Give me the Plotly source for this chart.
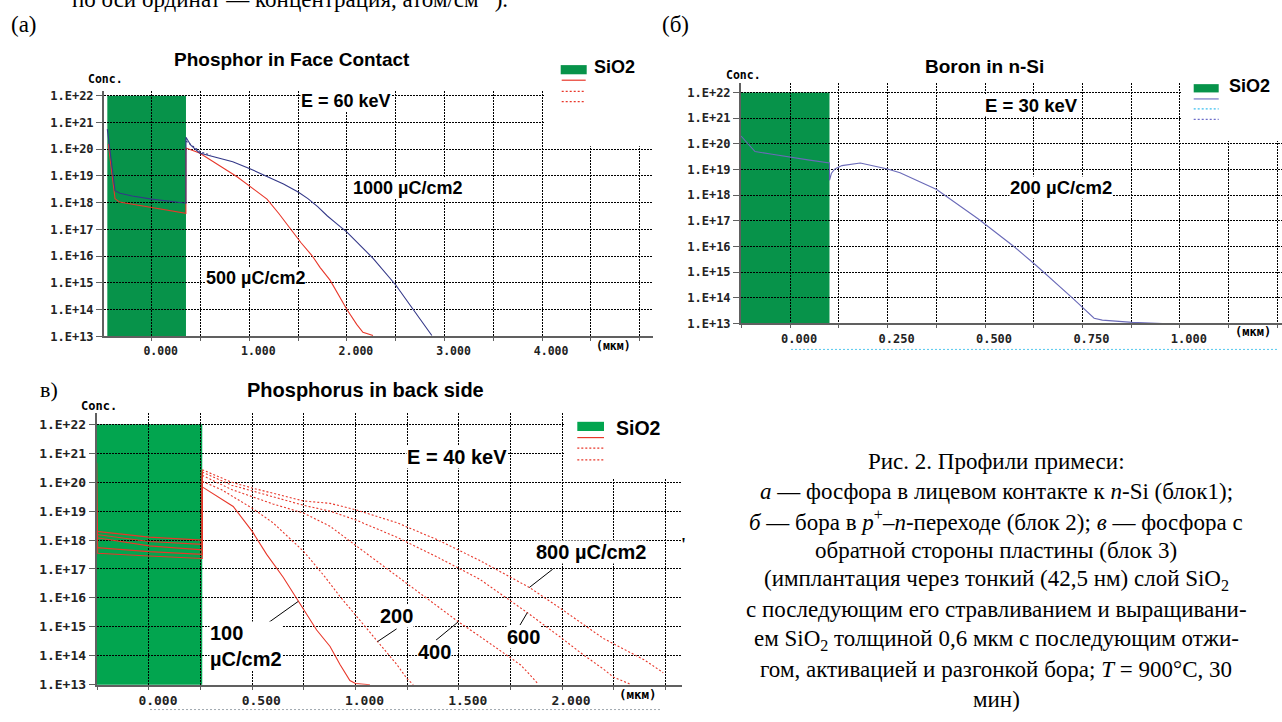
import math
import plotly.graph_objects as go

W, H = 1282, 722

# ------------------------------------------------------------------ data
conc_ticks = [1e13, 1e14, 1e15, 1e16, 1e17, 1e18, 1e19, 1e20, 1e21, 1e22]
conc_labels = ["1.E+13", "1.E+14", "1.E+15", "1.E+16", "1.E+17",
               "1.E+18", "1.E+19", "1.E+20", "1.E+21", "1.E+22"]

# (a) Phosphor in Face Contact
a_xticks = [0, 1, 2, 3, 4]
a_xlabels = ["0.000", "1.000", "2.000", "3.000", "4.000"]
a_sio2 = [-0.455, 0.351]
a_blue_ox_x = [-0.455, -0.42, -0.39, -0.376, -0.325, -0.2, 0.0, 0.2, 0.35]
a_blue_ox_c = [5.6e20, 5.0e19, 6.3e18, 2.8e18, 2.24e18, 1.78e18, 1.35e18, 1.12e18, 9.5e17]
a_blue_si_x = [0.351, 0.40, 0.49, 0.65, 0.83, 1.0, 1.18, 1.35, 1.5, 1.6, 1.7, 1.8,
               1.9, 2.0, 2.27, 2.5, 2.67, 2.87]
a_blue_si_c = [2.8e20, 1.41e20, 7.2e19, 5.0e19, 3.4e19, 1.9e19, 9.3e18, 5.0e18, 2.5e18,
               1.41e18, 7.1e17, 3.16e17, 1.58e17, 7.9e16, 8.1e15, 8.3e14, 1.12e14, 1.07e13]
a_blue_dot_x = [0.351, 0.42, 0.5, 0.6]
a_blue_dot_c = [2.0e20, 1.26e20, 7.9e19, 6.0e19]
a_red_ox_x = [-0.445, -0.42, -0.40, -0.376, -0.33, -0.19, 0.0, 0.2, 0.35]
a_red_ox_c = [1.58e20, 3.16e19, 7.9e18, 1.41e18, 1.05e18, 8.7e17, 6.6e17, 5.0e17, 4.0e17]
a_red_si_x = [0.351, 0.49, 0.874, 1.181, 1.3, 1.417, 1.53, 1.642, 1.724, 1.827, 2.0,
              2.1, 2.164, 2.267]
a_red_si_c = [1.1e20, 7.2e19, 9.3e18, 1.35e18, 4.0e17, 1.05e17, 3.16e16, 1.05e16,
              3.8e15, 1.26e15, 1.0e14, 2.8e13, 1.41e13, 1.07e13]

# (б) Boron in n-Si
b_xticks = [0, 0.25, 0.5, 0.75, 1.0]
b_xlabels = ["0.000", "0.250", "0.500", "0.750", "1.000"]
b_sio2 = [-0.126, 0.101]
b_boron_x = [-0.126, -0.103, -0.09, -0.05, 0.0, 0.05, 0.101, 0.101, 0.106, 0.115, 0.133,
             0.18, 0.25, 0.282, 0.376, 0.483, 0.57, 0.63, 0.724, 0.78, 0.801, 0.878, 0.955]
b_boron_c = [2.0e20, 7.8e19, 5.0e19, 4.0e19, 3.0e19, 2.3e19, 1.8e19, 3.8e18, 7.1e18,
             1.05e19, 1.41e19, 1.78e19, 1.05e19, 7.4e18, 1.66e18, 1.17e17, 1.12e16,
             1.9e15, 1.0e14, 1.6e13, 1.35e13, 1.1e13, 1.0e13]

# (в) Phosphorus in back side
c_xticks = [0, 0.5, 1.0, 1.5, 2.0]
c_xlabels = ["0.000", "0.500", "1.000", "1.500", "2.000"]
c_sio2 = [-0.253, 0.258]
c_doses = [100, 200, 400, 600, 800]
c_ox_x = {100: [-0.253, -0.248, 0.0, 0.258], 200: [-0.253, 0.0, 0.258],
          400: [-0.253, 0.0, 0.258], 600: [-0.253, 0.0, 0.258], 800: [-0.253, 0.0, 0.258]}
c_ox_c = {100: [4.7e20, 3.5e17, 2.8e17, 2.3e17], 200: [5.5e17, 4.0e17, 3.2e17],
          400: [1.2e18, 6.3e17, 4.6e17], 600: [1.55e18, 8.9e17, 7.1e17],
          800: [2.0e18, 1.26e18, 1.0e18]}
c_si_x = {
    100: [0.258, 0.408, 0.5, 0.57, 0.65, 0.723, 0.812, 0.877, 0.925, 0.973, 1.0, 1.07],
    200: [0.258, 0.35, 0.5, 0.6, 0.75, 0.85, 0.925, 1.0, 1.107, 1.2, 1.25, 1.28],
    400: [0.258, 0.4, 0.5, 0.6, 0.75, 0.877, 1.0, 1.2, 1.4, 1.498, 1.6, 1.7, 1.8, 1.85, 1.885],
    600: [0.258, 0.4, 0.5, 0.75, 0.877, 1.0, 1.2, 1.4, 1.6, 1.832, 2.0, 2.1, 2.2, 2.25, 2.33],
    800: [0.258, 0.4, 0.5, 0.75, 0.877, 1.0, 1.2, 1.4, 1.6, 1.842, 2.0, 2.2, 2.4, 2.49],
}
c_si_c = {
    100: [6.9e19, 1.45e19, 2.0e18, 3.2e17, 5.2e16, 7.6e15, 7.8e14, 2.1e14, 5.0e13, 1.4e13, 1.1e13, 1.0e13],
    200: [1.07e20, 5.6e19, 1.26e19, 4.0e18, 4.0e17, 5.6e16, 1.12e16, 2.5e15, 3.1e14, 5.0e13, 1.6e13, 1.0e13],
    400: [1.74e20, 5.6e19, 3.16e19, 1.78e19, 8.5e18, 3.0e18, 6.6e17, 5.8e16, 5.1e15, 1.5e15,
          4.8e14, 1.5e14, 4.8e13, 2.0e13, 1.05e13],
    600: [2.24e20, 7.9e19, 5.0e19, 1.58e19, 1.0e19, 5.0e18, 1.26e18, 2.5e17, 4.5e16, 3.1e15,
          4.0e14, 1.12e14, 3.5e13, 1.8e13, 1.05e13],
    800: [2.7e20, 1.0e20, 6.3e19, 2.24e19, 1.86e19, 1.12e19, 4.0e18, 1.0e18, 2.0e17, 2.3e16,
          4.0e15, 4.0e14, 7.1e13, 2.6e13],
}
# points on the curves that the label leader lines touch
c_lead_x = [0.723, 1.107, 1.498, 1.832, 1.842]
c_lead_c = [7.6e15, 3.1e14, 1.5e15, 3.1e15, 2.3e16]

# ------------------------------------------------------------------ styles
GREEN_A = "#07934a"
GREEN_C = "#02a54f"
NAVY = "#343888"
RED = "#e8372a"
BORON = "#6a6ab8"
GRID = "#000000"
GRIDDASH = "2px,1px"
MONO = "DejaVu Sans Mono"
SANS = "Liberation Sans"
SERIF = "Liberation Serif"


def px(xp, yp):
    return xp / W, 1 - yp / H


# pixel geometry of the three panels: left, right, top(axis), y(1e22), bottom(1e13)
geo = {
    "a": dict(l=104, r=653, t=90, y22=95, b=339, xr=(-0.489, 5.136)),
    "b": dict(l=741, r=1282, t=81.7, y22=91.7, b=326, xr=(-0.126, 1.262)),
    "c": dict(l=96.7, r=682, t=416.7, y22=428.3, b=692.3, xr=(-0.253, 2.581)),
}
for g in geo.values():
    dec = (g["b"] - g["y22"]) / 9
    g["ytop"] = 22 + (g["y22"] - g["t"]) / dec
    g["xdom"] = [g["l"] / W, g["r"] / W]
    g["ydom"] = [1 - g["b"] / H, 1 - g["t"] / H]
    g["frac"] = lambda lv, g=g: (lv - 13) / (g["ytop"] - 13)


def xaxis(g, tv, tt, minor_dt, fs, anchor):
    return dict(domain=g["xdom"], range=list(g["xr"]), anchor=anchor,
                tickmode="array", tickvals=tv, ticktext=tt,
                showgrid=True, gridcolor=GRID, griddash=GRIDDASH, gridwidth=1,
                showline=True, linecolor="#606060", linewidth=2,
                ticks="outside", ticklen=3, tickcolor="#606060",
                tickfont=dict(family=MONO, size=fs, color="#222", weight="bold"),
                ticklabelshift=9, zeroline=False, fixedrange=True,
                minor=dict(tickmode="linear", tick0=0, dtick=minor_dt, showgrid=True,
                           gridcolor=GRID, griddash=GRIDDASH, gridwidth=1,
                           ticks="outside", ticklen=3, tickcolor="#606060"))


def yaxis(g, fs, anchor):
    return dict(domain=g["ydom"], type="log", range=[13, g["ytop"]], anchor=anchor,
                tickmode="array", tickvals=conc_ticks, ticktext=conc_labels,
                showgrid=True, gridcolor=GRID, griddash=GRIDDASH, gridwidth=1,
                showline=True, linecolor="#606060", linewidth=2,
                ticks="outside", ticklen=6, tickcolor="#606060",
                tickfont=dict(family=MONO, size=fs, color="#222", weight="bold"),
                zeroline=False, fixedrange=True)


fig = go.Figure()


def line(x, y, xa, ya, color, dash="solid"):
    fig.add_trace(go.Scatter(x=x, y=y, xaxis=xa, yaxis=ya, mode="lines",
                             line=dict(color=color, width=1.1, dash=dash),
                             hoverinfo="skip", showlegend=False))


# (a)
line(a_red_ox_x + a_red_si_x, a_red_ox_c + a_red_si_c, "x", "y", RED)
line(a_blue_ox_x + a_blue_si_x, a_blue_ox_c + a_blue_si_c, "x", "y", NAVY)
line(a_blue_dot_x, a_blue_dot_c, "x", "y", NAVY, "2px,2px")
# (б)
line(b_boron_x, b_boron_c, "x2", "y2", BORON)
# (в)
for d in c_doses:
    line(c_ox_x[d] + [c_si_x[d][0]], c_ox_c[d] + [c_si_c[d][0]], "x3", "y3", RED)
    line(c_si_x[d], c_si_c[d], "x3", "y3", RED, "solid" if d == 100 else "2px,2px")

ga, gb, gc = geo["a"], geo["b"], geo["c"]
fig.update_layout(
    width=W, height=H, margin=dict(l=0, r=0, t=0, b=0),
    paper_bgcolor="white", plot_bgcolor="white", showlegend=False,
    xaxis=xaxis(ga, a_xticks, a_xlabels, 0.5, 11.5, "y"),
    yaxis=yaxis(ga, 12, "x"),
    xaxis2=xaxis(gb, b_xticks, b_xlabels, 0.125, 12, "y2"),
    yaxis2=yaxis(gb, 12, "x2"),
    xaxis3=xaxis(gc, c_xticks, c_xlabels, 0.25, 13, "y3"),
    yaxis3=yaxis(gc, 13, "x3"),
)

shapes = []
# SiO2 regions (below the grid)
for g, xr, yr, rng, col in [(ga, "x", "y domain", a_sio2, GREEN_A),
                            (gb, "x2", "y2 domain", b_sio2, GREEN_A),
                            (gc, "x3", "y3 domain", c_sio2, GREEN_C)]:
    shapes.append(dict(type="rect", xref=xr, yref=yr, x0=rng[0], x1=rng[1],
                       y0=0, y1=g["frac"](22), fillcolor=col, line=dict(width=0),
                       layer="below"))
# grid cut-outs behind the legends
for g, xr, yr, xcut, eps in [(ga, "x", "y domain", 4.0, 0.02),
                             (gb, "x2", "y2 domain", 1.0, 0.005),
                             (gc, "x3", "y3 domain", 2.0, 0.01)]:
    shapes.append(dict(type="rect", xref=xr, yref=yr, x0=xcut + eps, x1=g["xr"][1] + 0.1,
                       y0=g["frac"](20) + 0.012, y1=1.05, fillcolor="white",
                       line=dict(width=0), layer="above"))

# leader lines from the (в) labels to the curves
lead_off = [(-50, 35.6), (19, -12.7), (-22.3, 18.4), (-7.3, 12.4), (23.4, -18.3)]
for lx, lc, (dx, dy) in zip(c_lead_x, c_lead_c, lead_off):
    shapes.append(dict(type="line", xref="x3", yref="y3 domain",
                       xsizemode="pixel", ysizemode="pixel",
                       xanchor=lx, yanchor=gc["frac"](math.log10(lc)),
                       x0=0, x1=dx, y0=0, y1=-dy,
                       line=dict(color="black", width=1), layer="above"))


def pline(x0, x1, y, color, dash="solid", width=1.2):
    (a0, b0), (a1, _) = px(x0, y), px(x1, y)
    shapes.append(dict(type="line", xref="paper", yref="paper", x0=a0, x1=a1, y0=b0, y1=b0,
                       line=dict(color=color, width=width, dash=dash), layer="above"))


def prect(x0, x1, y0, y1, color):
    (a0, b0), (a1, b1) = px(x0, y0), px(x1, y1)
    shapes.append(dict(type="rect", xref="paper", yref="paper", x0=a0, x1=a1, y0=b0, y1=b1,
                       fillcolor=color, line=dict(width=0), layer="above"))


# legends
prect(560.7, 586.7, 64, 73.3, GREEN_A)
pline(561.7, 585.7, 79.3, RED)
pline(561.7, 585.7, 90.7, RED, "2px,2px")
pline(561.7, 585.7, 101, RED, "2px,2px")
prect(1193.7, 1218.7, 83.3, 91.7, GREEN_A)
pline(1193.7, 1218.7, 98.3, "#7474c4")
pline(1193.7, 1218.7, 108.3, "#3cc0f0", "2px,2px")
pline(1193.7, 1218.7, 119, "#6c6cc8", "2px,2px")
prect(577.3, 604, 425.7, 435, GREEN_C)
pline(577.3, 604, 441.7, RED)
pline(577.3, 604, 452.3, RED, "2px,2px")
pline(577.3, 604, 464.3, RED, "2px,2px")
# faint legend remnants below panels
pline(791, 1279, 352.3, "#55c8ee", "2px,2px", 1)
pline(150, 660, 717.5, "#a0a8b0", "2px,2px", 1)

fig.update_layout(shapes=shapes)

ann = []


def text(xp, yp, t, size, family=SANS, bold=True, bg=None, xanchor="center", align="center",
         yanchor="middle"):
    x, y = px(xp, yp)
    ann.append(dict(x=x, y=y, xref="paper", yref="paper", text=t, showarrow=False,
                    xanchor=xanchor, yanchor=yanchor, align=align,
                    font=dict(family=family, size=size, color="black",
                              weight="bold" if bold else "normal"),
                    bgcolor=bg, borderpad=0))


# panel (a)
text(292, 58, "Phosphor in Face Contact", 19)
text(614.5, 66, "SiO2", 18)
text(345.8, 100, "E = 60 keV", 18, bg="white")
text(407.3, 188.3, "1000 µC/cm2", 18, bg="white")
text(255.3, 280, "500 µC/cm2", 18, bg="white")
text(105.7, 77.7, "Conc.", 11.5, MONO)
text(613.3, 349, "(мкм)", 11.5, MONO)
# panel (б)
text(984, 65, "Boron in n-Si", 19)
text(1249, 85, "SiO2", 18)
text(1031, 105, "E = 30 keV", 18.5, bg="white")
text(1061, 188.3, "200 µC/cm2", 18.5, bg="white")
text(743.7, 74.3, "Conc.", 11.5, MONO)
text(1252.5, 335, "(мкм)", 12, MONO)
# panel (в)
text(365.3, 393, "Phosphorus in back side", 20)
text(638, 432, "SiO2", 19.5)
text(457.3, 461.7, "E = 40 keV", 20, bg="white")
text(99, 409.3, "Conc.", 12, MONO)
text(638, 702.3, "(мкм)", 12.5, MONO)
text(209, 653.5, "100<br>µC/cm2", 20, bg="white", xanchor="left", align="left")
text(396, 622.7, "200", 20, bg="white")
text(434.5, 659.3, "400", 20, bg="white")
text(523.3, 644.3, "600", 20, bg="white")
text(591.3, 557.7, "800 µC/cm2", 20, bg="white")

# panel labels and captions (serif)
text(24, 23.3, "(а)", 23, SERIF, bold=False)
text(675, 23.3, "(б)", 23, SERIF, bold=False)
text(49, 393, "в)", 22, SERIF, bold=False)
text(509, 11, "по оси ординат — концентрация, атом/см<sup>–3</sup>).", 23, SERIF, bold=False,
     xanchor="right", yanchor="bottom")
text(683, 551, "'", 18, SERIF, bold=True)

cap_lines = [
    "Рис. 2. Профили примеси:",
    "<i>а</i> — фосфора в лицевом контакте к <i>n</i>-Si (блок1);",
    "<i>б</i> — бора в <i>p</i><sup>+</sup>–<i>n</i>-переходе (блок 2); <i>в</i> — фосфора с",
    "обратной стороны пластины (блок 3)",
    "(имплантация через тонкий (42,5 нм) слой SiO<sub>2</sub>",
    "с последующим его стравливанием и выращивани-",
    "ем SiO<sub>2</sub> толщиной 0,6 мкм с последующим отжи-",
    "гом, активацией и разгонкой бора; <i>T</i> = 900°C, 30",
    "мин)",
]
for i, t in enumerate(cap_lines):
    text(996, 466 + 30.1 * i, t, 23, SERIF, bold=False)

fig.update_layout(annotations=ann)
fig.write_html("out.html", config={"displayModeBar": False},
               post_script="document.body.style.margin='0';"
                           "document.body.style.overflow='hidden';")
